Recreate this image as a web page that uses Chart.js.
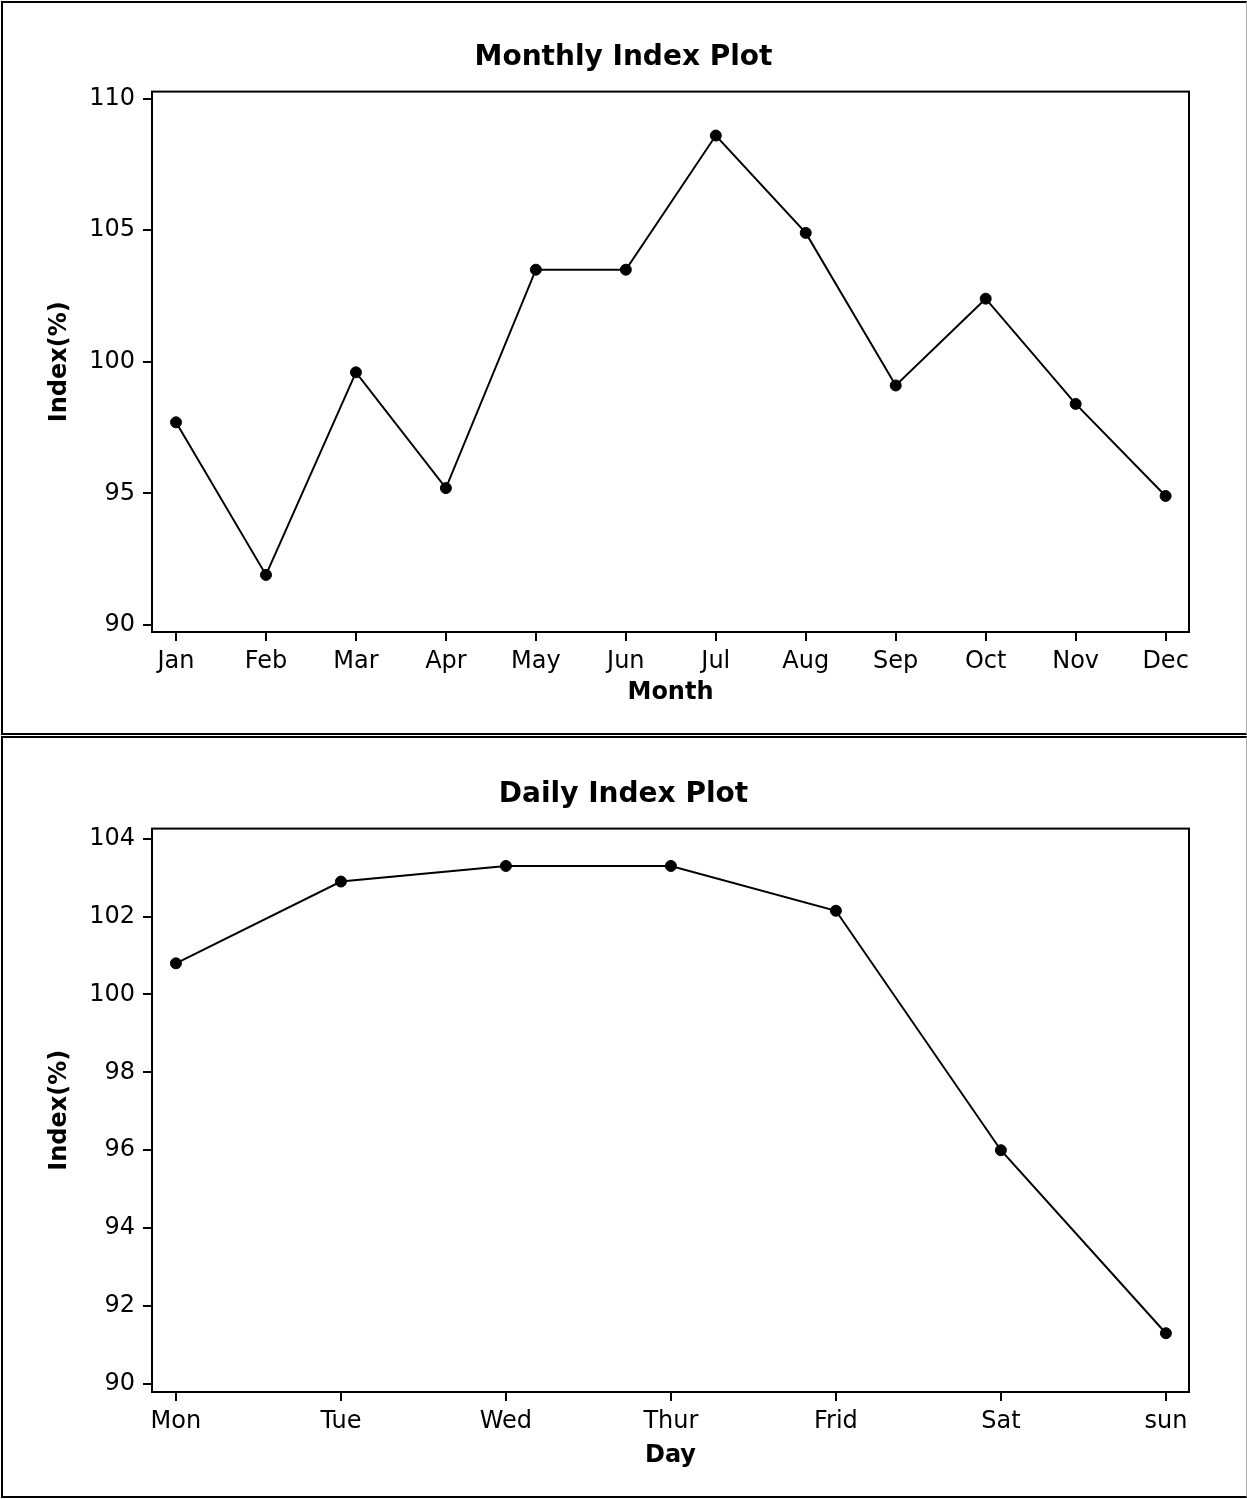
<!DOCTYPE html>
<html>
<head>
<meta charset="utf-8">
<script src="https://cdn.jsdelivr.net/npm/chart.js@4.4.1/dist/chart.umd.min.js"></script>
<style>
  body { margin: 0; background: #fff; width: 1247px; height: 1499px; position: relative; overflow: hidden; }
  .marco { position: absolute; box-sizing: border-box; border: 2px solid #000; border-right: 1px solid #aaa; pointer-events: none; }
  .lienzo { position: absolute; left: 0; }
</style>
</head>
<body>
<div class="lienzo" style="top:0; width:1247px; height:735px;"><canvas id="mensual"></canvas></div>
<div class="lienzo" style="top:735px; width:1247px; height:764px;"><canvas id="diaria"></canvas></div>
<div class="marco" style="left:1px; top:1px; width:1246px; height:734px;"></div>
<div class="marco" style="left:1px; top:736px; width:1246px; height:762px;"></div>
<script>
// --- DATOS ---
const meses = ['Jan', 'Feb', 'Mar', 'Apr', 'May', 'Jun', 'Jul', 'Aug', 'Sep', 'Oct', 'Nov', 'Dec'];
const indiceMensual = [97.7, 91.9, 99.6, 95.2, 103.5, 103.5, 108.6, 104.9, 99.1, 102.4, 98.4, 94.9];
const ticksMensual = [90, 95, 100, 105, 110];

const dias = ['Mon', 'Tue', 'Wed', 'Thur', 'Frid', 'Sat', 'sun'];
const indiceDiario = [100.8, 102.9, 103.3, 103.3, 102.15, 96.0, 91.3];
const ticksDiario = [90, 92, 94, 96, 98, 100, 102, 104];

const FUENTE = 'DejaVu Sans, Verdana, sans-serif';

// Marco negro alrededor del área de la gráfica
const marcoArea = {
    id: 'marcoArea',
    afterDraw(chart) {
        const a = chart.chartArea;
        const ctx = chart.ctx;
        ctx.save();
        ctx.strokeStyle = '#000';
        ctx.lineWidth = 2;
        ctx.strokeRect(a.left, a.top, a.right - a.left, a.bottom - a.top);
        ctx.restore();
    }
};

function crearGrafica(id, etiquetas, valores, marcas, cfg) {
    const puntos = valores.map((v, i) => ({ x: i, y: v }));
    return new Chart(document.getElementById(id), {
        type: 'line',
        data: {
            datasets: [{
                data: puntos,
                borderColor: '#000',
                borderWidth: 2,
                pointRadius: 5.5,
                pointBackgroundColor: '#000',
                pointBorderColor: '#000',
                pointBorderWidth: 1,
                tension: 0,
                fill: false
            }]
        },
        options: {
            responsive: true,
            maintainAspectRatio: false,
            animation: false,
            events: [],
            layout: { padding: 0 },
            plugins: {
                legend: { display: false },
                tooltip: { enabled: false },
                title: {
                    display: true,
                    text: cfg.titulo,
                    color: '#000',
                    font: { family: FUENTE, size: 28, weight: 'bold', lineHeight: 1.2 },
                    padding: { top: cfg.tituloArriba, bottom: cfg.tituloAbajo }
                }
            },
            scales: {
                x: {
                    type: 'linear',
                    min: cfg.xMin,
                    max: cfg.xMax,
                    afterBuildTicks: (eje) => { eje.ticks = etiquetas.map((_, i) => ({ value: i })); },
                    afterFit: (eje) => { eje.height = cfg.altoX; },
                    ticks: {
                        color: '#000',
                        font: { family: FUENTE, size: 24 },
                        padding: 6,
                        maxRotation: 0,
                        autoSkip: false,
                        callback: (v) => etiquetas[v]
                    },
                    grid: { drawOnChartArea: false, drawTicks: true, tickLength: 9, color: '#000', lineWidth: 2 },
                    border: { display: false },
                    title: {
                        display: true,
                        text: cfg.tituloX,
                        color: '#000',
                        font: { family: FUENTE, size: 24, weight: 'bold', lineHeight: 1.2 },
                        padding: { top: 0, bottom: cfg.padTituloX }
                    }
                },
                y: {
                    min: cfg.yMin,
                    max: cfg.yMax,
                    afterBuildTicks: (eje) => { eje.ticks = marcas.map(v => ({ value: v })); },
                    afterFit: (eje) => { eje.width = 152; },
                    ticks: {
                        color: '#000',
                        font: { family: FUENTE, size: 24 },
                        padding: 8
                    },
                    grid: { drawOnChartArea: false, drawTicks: true, tickLength: 9, color: '#000', lineWidth: 2 },
                    border: { display: false },
                    title: {
                        display: true,
                        text: 'Index(%)',
                        color: '#000',
                        font: { family: FUENTE, size: 24, weight: 'bold', lineHeight: 1.2 },
                        padding: { top: 45, bottom: 0 }
                    }
                },
                // eje derecho vacío: sólo reserva el margen derecho
                margen: {
                    position: 'right',
                    min: cfg.yMin,
                    max: cfg.yMax,
                    afterFit: (eje) => { eje.width = 58; },
                    ticks: { display: false },
                    grid: { display: false },
                    border: { display: false }
                }
            }
        },
        plugins: [marcoArea]
    });
}

window.onload = function() {
    crearGrafica('mensual', meses, indiceMensual, ticksMensual, {
        titulo: 'Monthly Index Plot', tituloArriba: 41, tituloAbajo: 17,
        tituloX: 'Month', altoX: 103, padTituloX: 28,
        xMin: -0.267, xMax: 11.26, yMin: 89.73, yMax: 110.27
    });
    crearGrafica('diaria', dias, indiceDiario, ticksDiario, {
        titulo: 'Daily Index Plot', tituloArriba: 43, tituloAbajo: 17,
        tituloX: 'Day', altoX: 107, padTituloX: 29,
        xMin: -0.145, xMax: 6.14, yMin: 89.79, yMax: 104.26
    });
};
</script>
</body>
</html>
